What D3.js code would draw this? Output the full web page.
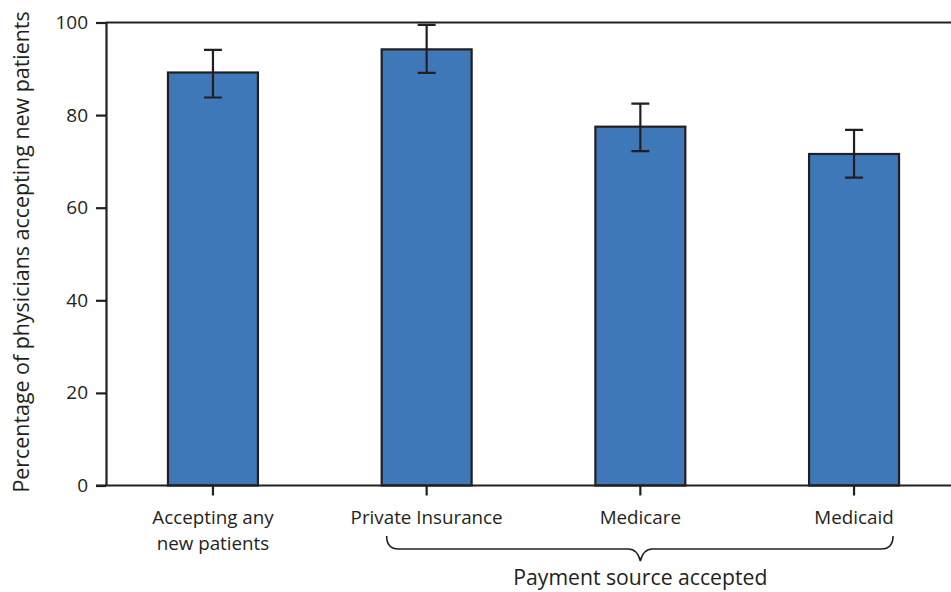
<!DOCTYPE html>
<html>
<head>
<meta charset="utf-8">
<script src="https://cdn.jsdelivr.net/npm/d3@7"></script>
<style>
    body { margin: 0; background: #fff; }
    text { font-family: 'Open Sans', sans-serif; fill: #231f20; }
</style>
</head>
<body>
<svg id="chart" width="951" height="592"></svg>
<script>
const categories = ['Accepting any new patients', 'Private Insurance', 'Medicare', 'Medicaid'];
const categoryLines = [['Accepting any', 'new patients'], ['Private Insurance'], ['Medicare'], ['Medicaid']];
const values = [89.2, 94.2, 77.5, 71.6];
const lower = [83.8, 89.1, 72.2, 66.5];
const upper = [94.1, 99.5, 82.5, 76.8];
const yTicks = [0, 20, 40, 60, 80, 100];
const yTitle = 'Percentage of physicians accepting new patients';
const groupLabel = 'Payment source accepted';
const groupFrom = 'Private Insurance';
const groupTo = 'Medicaid';

const svg = d3.select('#chart');
const ink = '#231f20';
const barColor = '#3f78b9';

const plotLeft = 106, plotTop = 22.5, plotBottom = 485.5, w = 951;

const y = d3.scaleLinear().domain([0, 100]).range([plotBottom, plotTop]);
const x = d3.scaleBand()
    .domain(categories)
    .range([plotLeft, 961])
    .paddingInner(0.579)
    .paddingOuter(0.29);

const rows = categories.map((c, i) => ({cat: c, v: values[i], lo: lower[i], hi: upper[i], lines: categoryLines[i]}));

// bars
svg.append('g')
    .selectAll('rect')
    .data(rows)
    .join('rect')
    .attr('x', d => x(d.cat))
    .attr('y', d => y(d.v))
    .attr('width', x.bandwidth())
    .attr('height', d => y(0) - y(d.v))
    .attr('fill', barColor)
    .attr('stroke', ink)
    .attr('stroke-width', 2.2);

// frame: top line + axes
svg.append('line')
    .attr('x1', plotLeft).attr('x2', w)
    .attr('y1', plotTop).attr('y2', plotTop)
    .attr('stroke', ink).attr('stroke-width', 2.2);

const yAxis = svg.append('g')
    .attr('transform', `translate(${plotLeft},0)`)
    .call(d3.axisLeft(y).tickValues(yTicks).tickSize(10).tickPadding(8).tickSizeOuter(0));
yAxis.select('.domain').attr('stroke', ink).attr('stroke-width', 2.2);
yAxis.selectAll('.tick line').attr('stroke', ink).attr('stroke-width', 2.2);
yAxis.selectAll('.tick text')
    .style('font-family', "'Open Sans', sans-serif")
    .style('font-size', '19px')
    .attr('fill', ink);

const xAxis = svg.append('g')
    .attr('transform', `translate(0,${plotBottom})`)
    .call(d3.axisBottom(x).tickSize(10).tickSizeOuter(0).tickFormat(''));
xAxis.select('.domain').attr('d', `M${plotLeft - 10},0H${w}`).attr('stroke', ink).attr('stroke-width', 2.2);
xAxis.selectAll('.tick line').attr('stroke', ink).attr('stroke-width', 2.2);

// category labels
svg.append('g')
    .selectAll('text')
    .data(rows)
    .join('text')
    .attr('x', d => x(d.cat) + x.bandwidth() / 2)
    .attr('y', 524)
    .attr('text-anchor', 'middle')
    .style('font-size', '18.8px')
    .selectAll('tspan')
    .data(d => d.lines)
    .join('tspan')
    .attr('x', function() { return this.parentNode.getAttribute('x'); })
    .attr('dy', (d, i) => i === 0 ? 0 : 26)
    .text(d => d);

// error bars
const cap = 9;
const err = svg.append('g').attr('stroke', ink).attr('stroke-width', 2.2);
err.selectAll('path')
    .data(rows)
    .join('path')
    .attr('fill', 'none')
    .attr('d', d => {
        const cx = x(d.cat) + x.bandwidth() / 2;
        return `M${cx - cap},${y(d.hi)}H${cx + cap}M${cx},${y(d.hi)}V${y(d.lo)}M${cx - cap},${y(d.lo)}H${cx + cap}`;
    });

// brace under payment sources
const bx1 = x(groupFrom) + x.bandwidth() / 2 - 40;
const bx2 = x(groupTo) + x.bandwidth() / 2 + 39;
const bmid = (x(groupFrom) + x(groupTo) + x.bandwidth()) / 2;
const by = 536, bh = 13, r = 12;
svg.append('path')
    .attr('fill', 'none')
    .attr('stroke', ink)
    .attr('stroke-width', 1.6)
    .attr('d', `M${bx1},${by}Q${bx1},${by + bh} ${bx1 + r},${by + bh}` +
        `H${bmid - 12}Q${bmid - 3},${by + bh} ${bmid},${by + bh + 12}` +
        `Q${bmid + 3},${by + bh} ${bmid + 12},${by + bh}` +
        `H${bx2 - r}Q${bx2},${by + bh} ${bx2},${by}`);

svg.append('text')
    .attr('x', bmid)
    .attr('y', 585)
    .attr('text-anchor', 'middle')
    .style('font-size', '21.2px')
    .text(groupLabel);

// y title
svg.append('text')
    .attr('transform', `translate(29,${(plotTop + plotBottom) / 2 - 2}) rotate(-90)`)
    .attr('text-anchor', 'middle')
    .style('font-size', '21.4px')
    .text(yTitle);
</script>
</body>
</html>
